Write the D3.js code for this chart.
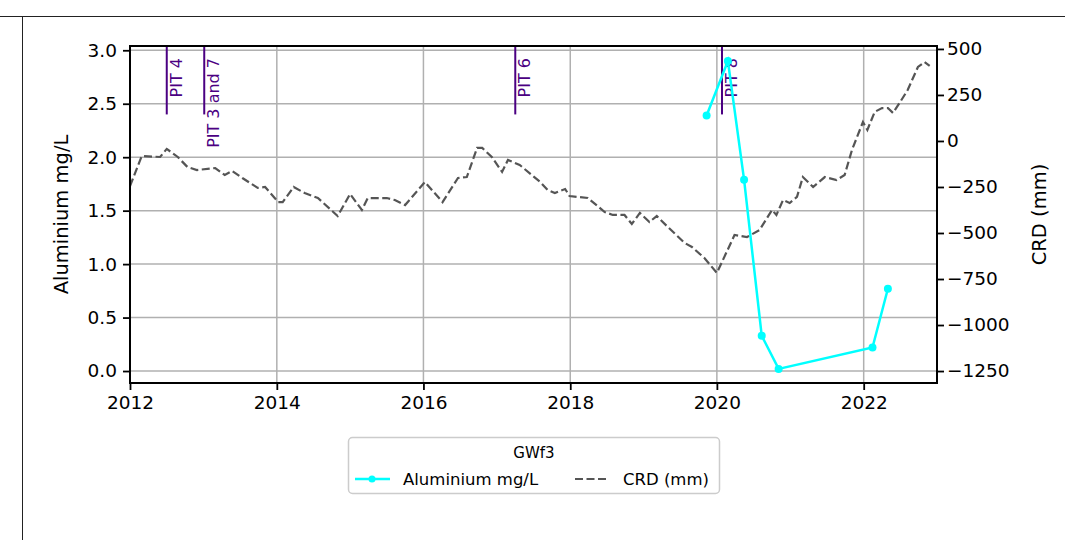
<!DOCTYPE html>
<html>
<head>
<meta charset="utf-8">
<script src="https://cdn.jsdelivr.net/npm/d3@7"></script>
<style>
  html, body { margin: 0; padding: 0; background: #fff; }
  svg { display: block; font-family: "DejaVu Sans", sans-serif; }
</style>
</head>
<body>
<svg id="chart" width="1065" height="540"></svg>
<script>
// ---- data ----
const crdYears = [2012.00, 2012.16, 2012.41, 2012.50, 2012.65, 2012.78, 2012.91, 2013.16, 2013.29, 2013.39,
  2013.53, 2013.74, 2013.84, 2014.02, 2014.08, 2014.23, 2014.38, 2014.56, 2014.77, 2014.83,
  2015.00, 2015.16, 2015.24, 2015.50, 2015.61, 2015.75, 2016.02, 2016.26, 2016.47, 2016.59,
  2016.73, 2016.80, 2016.93, 2017.07, 2017.15, 2017.31, 2017.59, 2017.69, 2017.79, 2017.93,
  2017.99, 2018.10, 2018.24, 2018.47, 2018.58, 2018.74, 2018.84, 2018.95, 2019.08, 2019.18,
  2019.33, 2019.56, 2019.66, 2019.83, 2020.00, 2020.24, 2020.41, 2020.58, 2020.75, 2020.81,
  2020.90, 2020.99, 2021.09, 2021.17, 2021.31, 2021.47, 2021.63, 2021.74, 2021.84, 2021.99,
  2022.05, 2022.15, 2022.25, 2022.33, 2022.40, 2022.49, 2022.60, 2022.74, 2022.83, 2022.90];
const crdValues = [-245, -82, -87, -43, -87, -141, -158, -147, -185, -163,
  -201, -255, -250, -332, -332, -250, -283, -310, -386, -408,
  -288, -375, -310, -310, -321, -348, -223, -332, -201, -196,
  -38, -38, -87, -168, -103, -130, -223, -266, -283, -261,
  -299, -304, -310, -386, -402, -402, -451, -391, -440, -408,
  -467, -554, -576, -636, -717, -511, -522, -484, -375, -402,
  -321, -337, -304, -196, -250, -196, -212, -185, -49, 103,
  60, 158, 179, 179, 152, 207, 277, 402, 429, 408];

const alYears  = [2019.86, 2020.15, 2020.37, 2020.61, 2020.84, 2022.12, 2022.33];
const alValues = [2.39, 2.90, 1.79, 0.33, 0.02, 0.22, 0.77];

const pitYears  = [2012.50, 2013.01, 2017.25, 2020.07];
const pitLabels = ["PIT 4", "PIT 3 and 7", "PIT 6", "PIT 8"];
const pitFrom = 2.4;   // lower end of the PIT markers (left axis units)

const xTickYears  = [2012, 2014, 2016, 2018, 2020, 2022];
const yLeftTicks  = [0.0, 0.5, 1.0, 1.5, 2.0, 2.5, 3.0];
const yRightTicks = [-1250, -1000, -750, -500, -250, 0, 250, 500];

const legendTitle = "GWf3";
const seriesNames = ["Aluminium mg/L", "CRD (mm)"];
const leftLabel = "Aluminium mg/L";
const rightLabel = "CRD (mm)";

// ---- helpers ----
function toDate(y) {
  const yr = Math.floor(y);
  const s = new Date(yr, 0, 1), e = new Date(yr + 1, 0, 1);
  return new Date(+s + (y - yr) * (e - s));
}

// ---- layout ----
const L = 130, R = 937, T = 46, B = 383;
const svg = d3.select("#chart");

const x = d3.scaleTime().domain([new Date(2012, 0, 1), new Date(2023, 0, 1)]).range([L, R]);
const yL = d3.scaleLinear().domain([-0.112, 3.040]).range([B, T]);
const yR = d3.scaleLinear().domain([-1315, 516]).range([B, T]);

// outer frame lines (figure container)
svg.append("line").attr("x1", 0).attr("x2", 1065).attr("y1", 16.5).attr("y2", 16.5)
  .attr("stroke", "#222").attr("stroke-width", 1);
svg.append("line").attr("x1", 22.5).attr("x2", 22.5).attr("y1", 16).attr("y2", 540)
  .attr("stroke", "#222").attr("stroke-width", 1);

// grid
const grid = svg.append("g");
grid.selectAll(".gx").data(xTickYears).enter().append("line")
  .attr("x1", d => x(toDate(d))).attr("x2", d => x(toDate(d)))
  .attr("y1", T).attr("y2", B)
  .attr("stroke", "#b0b0b0").attr("stroke-width", 1.5);
grid.selectAll(".gy").data(yLeftTicks).enter().append("line")
  .attr("x1", L).attr("x2", R)
  .attr("y1", d => yL(d)).attr("y2", d => yL(d))
  .attr("stroke", "#b0b0b0").attr("stroke-width", 1.5);

// clip
svg.append("clipPath").attr("id", "clip").append("rect")
  .attr("x", L).attr("y", T).attr("width", R - L).attr("height", B - T);

// PIT markers
const pits = svg.append("g").attr("clip-path", "url(#clip)");
pitYears.forEach((py, i) => {
  const px = x(toDate(py));
  pits.append("line").attr("x1", px).attr("x2", px)
    .attr("y1", yL(pitFrom)).attr("y2", T - 2)
    .attr("stroke", "#4b0082").attr("stroke-width", 2);
  pits.append("text")
    .attr("transform", `translate(${px + 15},${T + 12}) rotate(-90)`)
    .attr("text-anchor", "end")
    .attr("fill", "#4b0082")
    .style("font-size", "16px")
    .text(pitLabels[i]);
});

// CRD line (right axis)
const crdLine = d3.line().x((d, i) => x(toDate(crdYears[i]))).y(d => yR(d));
svg.append("path").datum(crdValues)
  .attr("clip-path", "url(#clip)")
  .attr("d", crdLine)
  .attr("fill", "none").attr("stroke", "#555555").attr("stroke-width", 2.2)
  .attr("stroke-dasharray", "8,3.5");

// Aluminium line (left axis)
const alLine = d3.line().x((d, i) => x(toDate(alYears[i]))).y(d => yL(d));
svg.append("path").datum(alValues)
  .attr("d", alLine)
  .attr("fill", "none").attr("stroke", "#00ffff").attr("stroke-width", 2.5);
svg.selectAll(".alpt").data(alValues).enter().append("circle")
  .attr("cx", (d, i) => x(toDate(alYears[i]))).attr("cy", d => yL(d))
  .attr("r", 4).attr("fill", "#00ffff");

// axes
function styleAxis(g) {
  g.select(".domain").remove();
  g.selectAll(".tick line").attr("stroke", "#000").attr("stroke-width", 1.8);
  g.selectAll(".tick text").attr("fill", "#000").style("font-size", "18.5px")
    .style("font-family", "DejaVu Sans, sans-serif");
}
const xAxis = d3.axisBottom(x).tickValues(xTickYears.map(toDate))
  .tickFormat(d3.timeFormat("%Y")).tickSize(7).tickPadding(6);
svg.append("g").attr("transform", `translate(0,${B})`).call(xAxis).call(styleAxis);

const yAxisL = d3.axisLeft(yL).tickValues(yLeftTicks).tickFormat(d3.format(".1f"))
  .tickSize(7).tickPadding(6);
svg.append("g").attr("transform", `translate(${L},0)`).call(yAxisL).call(styleAxis);

const yAxisR = d3.axisRight(yR).tickValues(yRightTicks).tickFormat(d3.format("d"))
  .tickSize(7).tickPadding(3);
svg.append("g").attr("transform", `translate(${R},0)`).call(yAxisR).call(styleAxis);

// spines
svg.append("rect").attr("x", L).attr("y", T).attr("width", R - L).attr("height", B - T)
  .attr("fill", "none").attr("stroke", "#000").attr("stroke-width", 2);

// axis labels
svg.append("text")
  .attr("transform", `translate(68,${(T + B) / 2}) rotate(-90)`)
  .attr("text-anchor", "middle").style("font-size", "19.5px").text(leftLabel);
svg.append("text")
  .attr("transform", `translate(1046,${(T + B) / 2}) rotate(-90)`)
  .attr("text-anchor", "middle").style("font-size", "19.5px").text(rightLabel);

// legend
const lg = svg.append("g");
lg.append("rect").attr("x", 348.5).attr("y", 437.5).attr("width", 371).attr("height", 56)
  .attr("rx", 4).attr("fill", "#fff").attr("fill-opacity", 0.8)
  .attr("stroke", "#cccccc").attr("stroke-width", 1.5);
lg.append("text").attr("x", 534).attr("y", 458).attr("text-anchor", "middle")
  .style("font-size", "15px").text(legendTitle);
lg.append("line").attr("x1", 355).attr("x2", 390).attr("y1", 479).attr("y2", 479)
  .attr("stroke", "#00ffff").attr("stroke-width", 2.5);
lg.append("circle").attr("cx", 372).attr("cy", 479).attr("r", 3.5).attr("fill", "#00ffff");
lg.append("text").attr("x", 403).attr("y", 485).style("font-size", "16.5px").text(seriesNames[0]);
lg.append("line").attr("x1", 575).attr("x2", 609).attr("y1", 479).attr("y2", 479)
  .attr("stroke", "#555555").attr("stroke-width", 2.2).attr("stroke-dasharray", "8,3.5");
lg.append("text").attr("x", 623).attr("y", 485).style("font-size", "16.5px").text(seriesNames[1]);
</script>
</body>
</html>
